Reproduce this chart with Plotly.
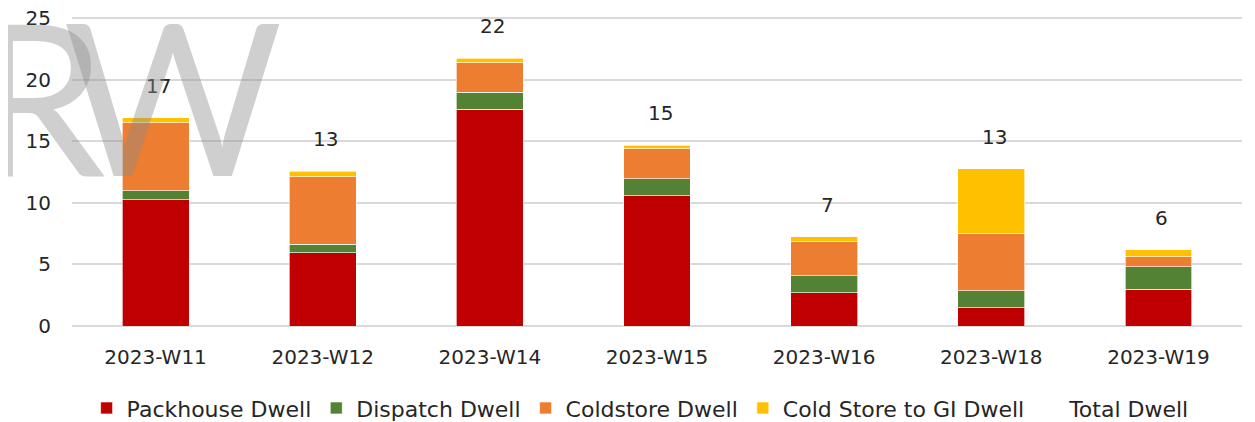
import plotly.graph_objects as go

weeks = ["2023-W11", "2023-W12", "2023-W14", "2023-W15", "2023-W16", "2023-W18", "2023-W19"]
packhouse = [10.25, 5.96, 17.6, 10.57, 2.71, 1.49, 3.0]
dispatch = [0.73, 0.68, 1.4, 1.41, 1.36, 1.36, 1.82]
coldstore = [5.52, 5.5, 2.4, 2.41, 2.79, 4.65, 0.81]
cold_to_gi = [0.4, 0.44, 0.33, 0.31, 0.4, 5.26, 0.55]
total_dwell = [16.9, 12.58, 21.73, 14.7, 7.26, 12.76, 6.18]

series = [
    ("Packhouse Dwell", packhouse, "#C00000"),
    ("Dispatch Dwell", dispatch, "#548235"),
    ("Coldstore Dwell", coldstore, "#ED7D31"),
    ("Cold Store to GI Dwell", cold_to_gi, "#FFC000"),
]

FONT = "DejaVu Sans"
TXT = "#262626"

fig = go.Figure()
for name, vals, col in series:
    fig.add_trace(go.Bar(
        name=name, x=weeks, y=vals,
        marker=dict(color=col, line=dict(color="rgba(255,255,255,0.8)", width=0.8)),
    ))

fig.add_trace(go.Scatter(
    name="Total Dwell", x=weeks, y=total_dwell, mode="lines",
    line=dict(color="rgba(0,0,0,0)", width=0), hoverinfo="skip",
))

for w, t in zip(weeks, total_dwell):
    fig.add_annotation(x=w, y=t, text=f"{t:.0f}", showarrow=False, yanchor="middle",
                       yshift=32, xshift=3, font=dict(family=FONT, size=20, color=TXT))

# watermark "RW"
wm_font = dict(family="Lato", size=212, color="rgba(140,140,140,0.42)", weight=400)
fig.add_annotation(xref="paper", yref="paper", x=-0.028, y=0.75, xanchor="center", yanchor="middle",
                   text="R", showarrow=False, font=wm_font)
fig.add_annotation(xref="paper", yref="paper", x=0.086, y=0.75, xanchor="center", yanchor="middle",
                   text="W", showarrow=False, font=wm_font)

# left border line
fig.add_shape(type="line", xref="paper", yref="paper", x0=-0.0556, x1=-0.0556, y0=-0.32, y1=1.07,
              line=dict(color="#c8c8c8", width=1.5))

fig.update_layout(
    barmode="stack",
    bargap=0.6,
    width=1247, height=414,
    margin=dict(l=64, r=13, t=9, b=96, autoexpand=False),
    paper_bgcolor="white", plot_bgcolor="white",
    font=dict(family=FONT, size=20, color=TXT),
    showlegend=True,
    legend=dict(orientation="h", x=0.486, xanchor="center", y=-0.198, yanchor="top",
                font=dict(family=FONT, size=22, color=TXT), traceorder="normal",
                itemwidth=30),
    xaxis=dict(showgrid=False, showline=False, ticks="", tickfont=dict(size=20, color=TXT),
               ticklabelstandoff=17),
    yaxis=dict(range=[0, 25.1], tickvals=[0, 5, 10, 15, 20, 25], showgrid=True,
               gridcolor="#d9d9d9", gridwidth=1.5,
               zeroline=True, zerolinecolor="#d9d9d9", zerolinewidth=1.5, ticklabeloverflow="allow",
               showline=False, ticks="", tickfont=dict(size=20, color=TXT), ticklabelstandoff=20),
)

fig.write_html("out.html")
